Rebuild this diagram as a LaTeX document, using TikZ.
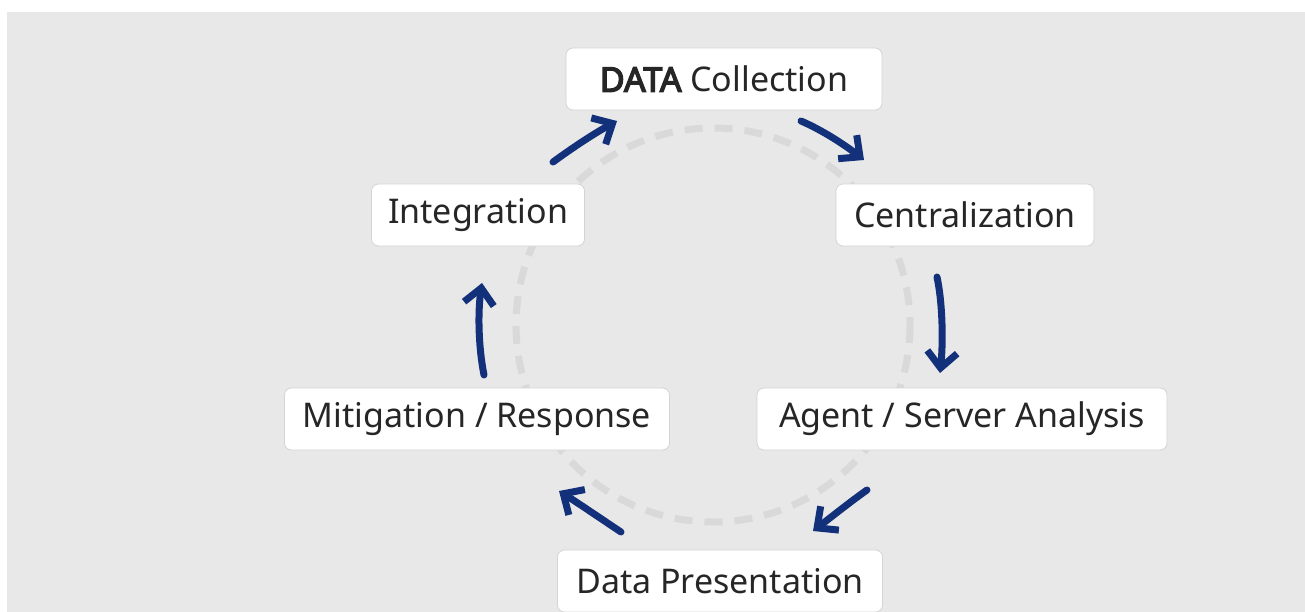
\documentclass[tikz,border=0pt]{standalone}
\usepackage{fontspec}
\setmainfont{Noto Sans}
\newfontfamily\heavy{Noto Sans}[FakeBold=4]
\usetikzlibrary{arrows.meta}
\definecolor{bggray}{HTML}{E8E8E8}
\definecolor{ringgray}{HTML}{D9D9D9}
\definecolor{navy}{HTML}{13307A}
\definecolor{boxedge}{HTML}{D4D4D4}
\tikzset{
  stage/.style={draw=boxedge, line width=0.8pt, fill=white, rounded corners=7pt,
    minimum height=62pt, inner xsep=4pt, font=\fontsize{34}{40}\selectfont, text=black!85},
  flow/.style={draw=navy, line width=7pt, line cap=round, line join=round,
    -{Straight Barb[length=16pt, width=30pt, line width=7pt]}},
}
\begin{document}
\begin{tikzpicture}[x=1pt, y=-1pt]
  \useasboundingbox (0,0) rectangle (1305,612);
  \fill[white] (0,0) rectangle (1305,612);
  \fill[bggray] (7,12) rectangle (1305,612);
  % dashed ring behind the stages
  \draw[ringgray, line width=7pt, dash pattern=on 18pt off 12pt] (713,325) circle [radius=197];
  % stages
  \node[stage, minimum width=316pt] (collect) at (724,79) {{\heavy DATA} Collection};
  \node[stage, minimum width=258pt] (central) at (965,215) {Centralization};
  \node[stage, minimum width=410pt] (analysis) at (962,419) {Agent / Server Analysis};
  \node[stage, minimum width=325pt] (present) at (720,581) {Data Presentation};
  \node[stage, minimum width=385pt] (mitig) at (477,419) {Mitigation / Response};
  \node[stage, minimum width=213pt] (integ) at (478,215) {Integration};
  % arrow end points
  \coordinate (a1s) at (553,162); \coordinate (a1e) at (617,121);
  \coordinate (a2s) at (801,121); \coordinate (a2e) at (864,160);
  \coordinate (a3s) at (937,277); \coordinate (a3e) at (940,373);
  \coordinate (a4s) at (867,490); \coordinate (a4e) at (813,531);
  \coordinate (a5s) at (621,532); \coordinate (a5e) at (559,491);
  \coordinate (a6s) at (484,375); \coordinate (a6e) at (482,283);
  % cycle arrows
  \draw[flow] (a1s) .. controls (575,146) and (595,133) .. (a1e);
  \draw[flow] (a2s) .. controls (822,130) and (845,145) .. (a2e);
  \draw[flow] (a3s) .. controls (943,305) and (943,345) .. (a3e);
  \draw[flow] (a4s) .. controls (850,502) and (830,518) .. (a4e);
  \draw[flow] (a5s) .. controls (600,518) and (578,503) .. (a5e);
  \draw[flow] (a6s) .. controls (478,345) and (478,310) .. (a6e);
\end{tikzpicture}
\end{document}
